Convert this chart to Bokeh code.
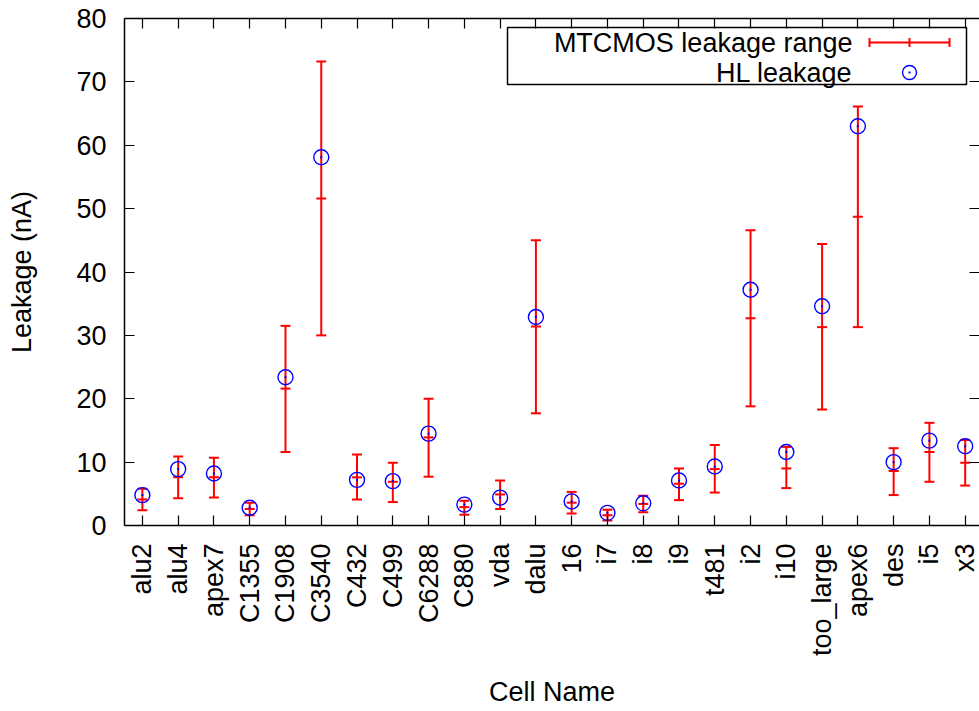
from math import pi

from bokeh.plotting import figure
from bokeh.models import Range1d, FixedTicker, LinearAxis, Label, ColumnDataSource
from bokeh.embed import file_html
from bokeh.resources import INLINE

# Benchmark cells on the x axis
cells = ["alu2", "alu4", "apex7", "C1355", "C1908", "C3540", "C432", "C499",
         "C6288", "C880", "vda", "dalu", "16", "i7", "i8", "i9", "t481", "i2",
         "i10", "too_large", "apex6", "des", "i5", "x3"]

# MTCMOS leakage range (nA): minimum, typical and maximum
mtcmos_low = [2.4, 4.3, 4.4, 1.6, 11.6, 30.0, 4.1, 3.7, 7.7, 1.7, 2.6, 17.7,
              1.9, 0.8, 2.1, 4.0, 5.2, 18.8, 5.9, 18.3, 31.3, 4.8, 6.9, 6.3]
mtcmos_mid = [4.1, 7.6, 7.6, 2.6, 21.6, 51.6, 7.6, 6.9, 13.9, 2.9, 4.9, 31.4,
              3.6, 1.6, 3.4, 6.6, 8.9, 32.7, 9.0, 31.3, 48.7, 8.6, 11.6, 9.9]
mtcmos_high = [5.8, 10.9, 10.7, 3.6, 31.5, 73.2, 11.2, 9.9, 20.0, 3.9, 7.1, 45.0,
               5.3, 2.5, 4.7, 9.0, 12.7, 46.6, 12.4, 44.4, 66.1, 12.2, 16.2, 13.5]

# HL leakage (nA)
hl_leakage = [4.8, 8.9, 8.2, 2.8, 23.4, 58.1, 7.2, 7.0, 14.5, 3.3, 4.4, 32.9,
              3.8, 2.0, 3.5, 7.1, 9.3, 37.2, 11.6, 34.6, 63.0, 10.0, 13.4, 12.5]

y_ticks = [0, 10, 20, 30, 40, 50, 60, 70, 80]

positions = list(range(1, len(cells) + 1))
src = ColumnDataSource(dict(x=positions, low=mtcmos_low, mid=mtcmos_mid,
                            high=mtcmos_high, hl=hl_leakage))

FONT = "Liberation Sans"
FS = "27px"

X0, X1 = 0.5, 24.4
Y0, Y1 = 0, 80
W, H = 979, 711
ML, MT, MB, MR = 124, 18, 186, 0

p = figure(width=W, height=H, x_range=Range1d(X0, X1), y_range=Range1d(Y0, Y1),
           output_backend="svg", toolbar_location=None,
           min_border_left=ML, min_border_right=MR, min_border_top=MT,
           min_border_bottom=MB, background_fill_color="white",
           border_fill_color="white")
p.outline_line_color = None
p.grid.visible = False


def style_axis(ax, labels=True):
    ax.axis_line_color = "black"
    ax.axis_line_width = 1.5
    ax.major_tick_in = 10
    ax.major_tick_out = 0
    ax.major_tick_line_color = "black"
    ax.major_tick_line_width = 1.2
    ax.minor_tick_line_color = None
    ax.major_label_text_font = FONT
    if labels:
        ax.major_label_text_font_size = FS
        ax.major_label_text_color = "black"
    else:
        # mirror axis: ticks only, no tick labels drawn
        ax.major_label_text_font_size = "1px"
        ax.major_label_text_color = None
        ax.major_label_standoff = 0


# bottom axis with cell names
xax = p.xaxis[0]
xax.ticker = FixedTicker(ticks=positions)
xax.major_label_overrides = {i: c for i, c in zip(positions, cells)}
xax.major_label_orientation = pi / 2
style_axis(xax)
xax.major_label_standoff = 18
xax.axis_label = "Cell Name"
xax.axis_label_text_font = FONT
xax.axis_label_text_font_size = FS
xax.axis_label_text_font_style = "normal"
xax.axis_label_text_color = "black"
xax.axis_label_standoff = 18

# left axis
yax = p.yaxis[0]
yax.ticker = FixedTicker(ticks=y_ticks)
style_axis(yax)
yax.major_label_standoff = 18
yax.axis_label = "Leakage (nA)"
yax.axis_label_text_font = FONT
yax.axis_label_text_font_size = FS
yax.axis_label_text_font_style = "normal"
yax.axis_label_text_color = "black"
yax.axis_label_standoff = 36

# mirrored ticks on top and right
top = LinearAxis(ticker=FixedTicker(ticks=positions))
style_axis(top, labels=False)
p.add_layout(top, "above")

right = LinearAxis(ticker=FixedTicker(ticks=y_ticks))
style_axis(right, labels=False)
right.axis_line_color = None
p.add_layout(right, "right")

# MTCMOS leakage range error bars
p.segment(x0="x", y0="low", x1="x", y1="high", source=src,
          line_color="red", line_width=2)
for col in ("low", "mid", "high"):
    p.scatter(x="x", y=col, source=src, marker="dash", size=10,
              line_color="red", line_width=2)

# HL leakage points
p.scatter(x="x", y="hl", source=src, marker="circle", size=15,
          fill_color=None, line_color="blue", line_width=1.4)
p.scatter(x="x", y="hl", source=src, marker="square", size=2,
          fill_color="blue", line_color=None)


# key box in the upper right corner, placed in pixel terms of the frame
def kx(px):
    return X0 + (px - ML) / (W - ML - MR) * (X1 - X0)


def ky(py):
    return Y1 - (py - MT) / (H - MT - MB) * (Y1 - Y0)


p.quad(left=[kx(507)], right=[kx(966)], top=[ky(27)], bottom=[ky(84)],
       fill_color="white", line_color="black", line_width=1.5)

for text, py in (("MTCMOS leakage range", 42), ("HL leakage", 72)):
    p.add_layout(Label(x=kx(852), y=ky(py), text=text, text_align="right",
                       text_baseline="middle", text_font=FONT,
                       text_font_size=FS, text_color="black"))

p.segment(x0=[kx(869)], y0=[ky(42)], x1=[kx(949)], y1=[ky(42)],
          line_color="red", line_width=2)
p.scatter(x=[kx(869), kx(909), kx(949)], y=[ky(42)] * 3, marker="dash",
          angle=pi / 2, size=9, line_color="red", line_width=2)
p.scatter(x=[kx(909)], y=[ky(72)], marker="circle", size=14,
          fill_color=None, line_color="blue", line_width=1.4)
p.scatter(x=[kx(909)], y=[ky(72)], marker="square", size=2,
          fill_color="blue", line_color=None)

open("out.html", "w").write(file_html(p, INLINE))
